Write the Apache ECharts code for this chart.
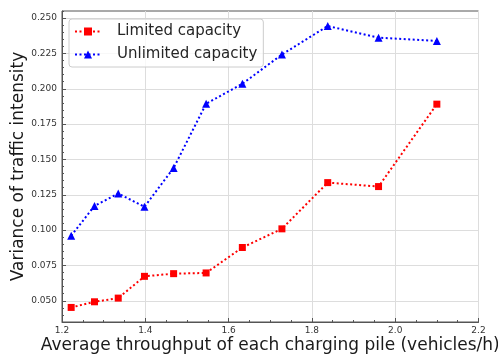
<!DOCTYPE html>
<html>
<head>
<meta charset="utf-8">
<script src="https://cdn.jsdelivr.net/npm/echarts@6/dist/echarts.min.js"></script>
<style>html,body{margin:0;padding:0;background:#fff;}#c{width:498px;height:356px;}</style>
</head>
<body>
<div id="c"></div>
<script>
var xValues = [1.222, 1.278, 1.335, 1.398, 1.468, 1.546, 1.633, 1.728, 1.838, 1.960, 2.100];
var limitedValues = [0.0453, 0.0493, 0.0519, 0.0673, 0.0692, 0.0697, 0.0877, 0.1009, 0.1336, 0.1308, 0.1891];
var unlimitedValues = [0.0960, 0.1171, 0.1259, 0.1165, 0.1440, 0.1894, 0.2035, 0.2242, 0.2444, 0.2361, 0.2338];
var yTickValues = [0.050, 0.075, 0.100, 0.125, 0.150, 0.175, 0.200, 0.225, 0.250];
var seriesNames = ['Limited capacity', 'Unlimited capacity'];
var xName = 'Average throughput of each charging pile (vehicles/h)';
var yName = 'Variance of traffic intensity';

function pairs(xs, ys) { return xs.map(function (x, i) { return [x, ys[i]]; }); }

var font = 'DejaVu Sans';
var chart = echarts.init(document.getElementById('c'), null, {renderer: 'canvas'});
chart.setOption({
  animation: false,
  backgroundColor: '#fff',
  grid: {left: 62, right: 19.5, top: 11, bottom: 34, show: true, borderColor: '#555', borderWidth: 1, containLabel: false, outerBoundsMode: 'none'},
  legend: {
    left: 69, top: 19, orient: 'vertical',
    padding: [5, 6, 5, 5], itemGap: 8, itemWidth: 26, itemHeight: 10,
    backgroundColor: 'rgba(255,255,255,0.8)', borderColor: '#ccc', borderWidth: 1, borderRadius: 3,
    textStyle: {fontFamily: font, fontSize: 15, color: '#262626', lineHeight: 15, padding: [0, 0, 0, 11]},
    data: seriesNames
  },
  xAxis: {
    type: 'value', min: 1.2, max: 2.2, interval: 0.2,
    name: xName, nameLocation: 'middle', nameGap: 15, nameMoveOverlap: false,
    nameTextStyle: {fontFamily: font, fontSize: 17, color: '#1a1a1a'},
    axisLine: {show: true, lineStyle: {color: '#555', width: 1}},
    axisTick: {show: true, inside: true, length: 4, lineStyle: {color: '#555'}},
    minorTick: {show: true, splitNumber: 4, length: 2, lineStyle: {color: '#555'}},
    axisLabel: {fontFamily: font, fontSize: 9, color: '#333', margin: 4, formatter: function (v) { return v.toFixed(1); }},
    splitLine: {show: true, lineStyle: {color: '#ddd', width: 1}}
  },
  yAxis: [{
    type: 'value', min: 0.035, max: 0.255,
    name: yName, nameLocation: 'middle', nameGap: 35, nameMoveOverlap: false,
    nameTextStyle: {fontFamily: font, fontSize: 17, color: '#1a1a1a'},
    axisLine: {show: true, lineStyle: {color: '#555', width: 1}},
    axisTick: {show: true, inside: true, length: 4, customValues: yTickValues, lineStyle: {color: '#555'}},
    axisLabel: {fontFamily: font, fontSize: 9, color: '#333', margin: 5, customValues: yTickValues, formatter: function (v) { return v.toFixed(3); }},
    splitLine: {show: true, lineStyle: {color: '#ddd', width: 1}}
  }, {
    type: 'value', min: 0.035, max: 0.255, interval: 0.005, position: 'left',
    axisLine: {show: false},
    axisTick: {show: true, inside: true, length: 2, lineStyle: {color: '#555'}},
    axisLabel: {show: false},
    splitLine: {show: false}
  }],
  series: [{
    name: seriesNames[0], type: 'line', yAxisIndex: 0,
    data: pairs(xValues, limitedValues),
    symbol: 'rect', symbolSize: 7,
    itemStyle: {color: '#ff0000'},
    lineStyle: {color: '#ff0000', width: 2, type: [2, 2.5]}
  }, {
    name: seriesNames[1], type: 'line', yAxisIndex: 0,
    data: pairs(xValues, unlimitedValues),
    symbol: 'triangle', symbolSize: 8,
    itemStyle: {color: '#0000ff'},
    lineStyle: {color: '#0000ff', width: 2, type: [2, 2.5]}
  }]
});
</script>
</body>
</html>
